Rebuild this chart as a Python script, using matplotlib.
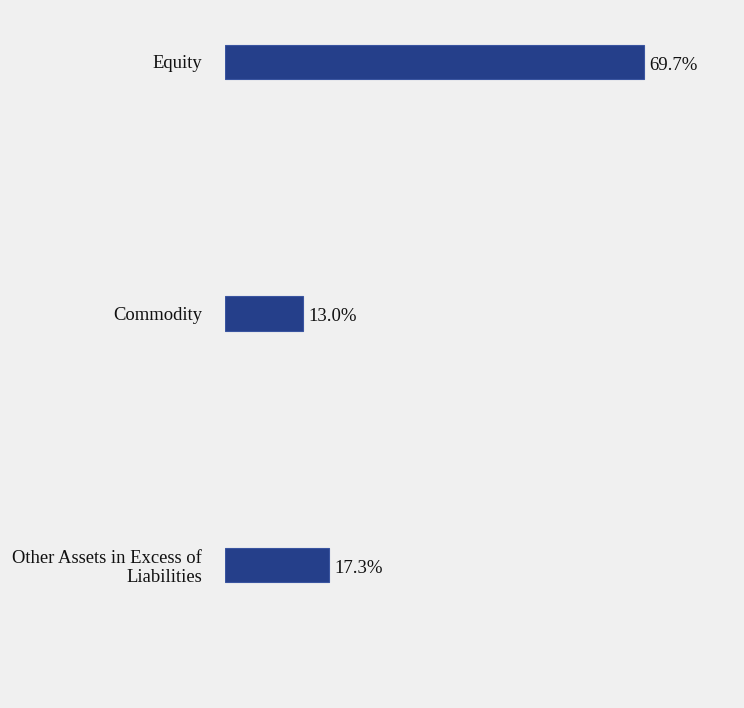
import matplotlib.pyplot as plt
from matplotlib.transforms import ScaledTranslation

categories = ["Equity", "Commodity", "Other Assets in Excess of\nLiabilities"]
values = [69.7, 13.0, 17.3]
value_labels = ["69.7%", "13.0%", "17.3%"]

plt.rcParams['font.family'] = ['Liberation Serif', 'DejaVu Serif']

bg = "#f0f0f0"
fig = plt.figure(figsize=(7.44, 7.08), dpi=100, facecolor=bg)
# axes placed so that x=0 sits at pixel 225 and spans to the right edge
ax = fig.add_axes([225 / 744, 0, 1 - 225 / 744, 1])
ax.set_facecolor(bg)

pos = list(range(len(categories)))
ax.barh(pos, values, height=0.139, color="#253f8a", edgecolor="#3a55a0", linewidth=0.8)

for p, v, lab in zip(pos, values, value_labels):
    ax.text(v + 0.9, p + 0.005, lab, va="center_baseline", ha="left", fontsize=13.5, color="#111111")

ax.set_xlim(0, (744 - 225) / 6.01)
ax.set_ylim(2 + (708 - 565) / 251.5, -62 / 251.5)

ax.set_yticks(pos)
ax.set_yticklabels(categories, fontsize=13.4, color="#111111", linespacing=1.15)
shift = ScaledTranslation(0, -2.5 / 100, fig.dpi_scale_trans)
for t in ax.get_yticklabels():
    t.set_verticalalignment("center_baseline")
    t.set_transform(t.get_transform() + shift)
ax.tick_params(axis="y", length=0, pad=16.5)
ax.set_xticks([])
for s in ax.spines.values():
    s.set_visible(False)

fig.savefig("out.png", dpi=100, facecolor=bg)
